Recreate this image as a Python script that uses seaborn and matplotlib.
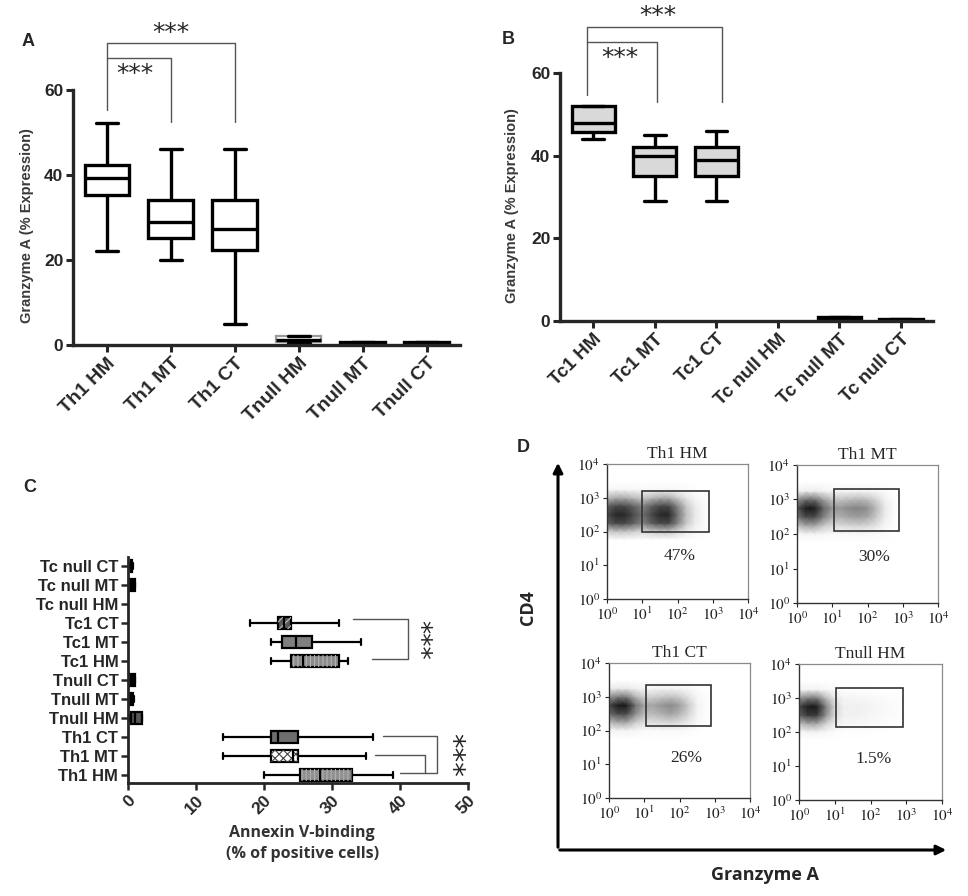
import numpy as np
import pandas as pd
import matplotlib
matplotlib.use('Agg')
import matplotlib.pyplot as plt
from matplotlib.patches import FancyArrowPatch, Rectangle, PathPatch
import seaborn as sns

sns.set_style('ticks')
plt.rcParams['font.family'] = ['Liberation Sans', 'DejaVu Sans']
plt.rcParams['mathtext.fontset'] = 'stix'
plt.rcParams['hatch.linewidth'] = 0.8

# ---------------- data ----------------
# five-number summaries: [min, q1, median, q3, max]
a_groups = ['Th1 HM', 'Th1 MT', 'Th1 CT', 'Tnull HM', 'Tnull MT', 'Tnull CT']
a_stats = [[22, 35.3, 39.2, 42.3, 52.2],
           [20, 25.1, 29, 34.1, 46],
           [5, 22.3, 27.2, 34, 46],
           [0.5, 0.8, 1.2, 2.0, 2.0],
           [0.1, 0.2, 0.4, 0.7, 0.8],
           [0.1, 0.2, 0.4, 0.6, 0.7]]

b_groups = ['Tc1 HM', 'Tc1 MT', 'Tc1 CT', 'Tc null HM', 'Tc null MT', 'Tc null CT']
b_stats = [[44, 45.8, 48, 52, 52],
           [29, 35, 40, 42.2, 45],
           [29, 35.1, 39, 42.2, 46],
           [],
           [0.2, 0.3, 0.6, 0.9, 0.9],
           [0.1, 0.2, 0.3, 0.5, 0.6]]

c_groups = ['Tc null CT', 'Tc null MT', 'Tc null HM', 'Tc1 CT', 'Tc1 MT', 'Tc1 HM',
            'Tnull CT', 'Tnull MT', 'Tnull HM', 'Th1 CT', 'Th1 MT', 'Th1 HM']
c_stats = [[0.3, 0.4, 0.5, 0.6, 0.7],
           [0, 0.2, 0.5, 1.0, 1.0],
           [],
           [18, 22, 23, 24, 31],
           [21, 22.7, 24.7, 27, 34.3],
           [21, 24, 25.7, 31, 32.3],
           [0, 0.2, 0.5, 1.0, 1.0],
           [0, 0.2, 0.4, 0.8, 0.9],
           [0.3, 0.4, 1.0, 2.0, 2.0],
           [14, 21, 22, 25, 36],
           [14, 21, 24.2, 25, 35],
           [20, 25.3, 28.2, 33, 39]]

# flow panels (D): log10 grid and read-off density profiles
d_titles = ['Th1 HM', 'Th1 MT', 'Th1 CT', 'Tnull HM']
d_pct = ['47%', '30%', '26%', '1.5%']
d_logx = [0, 0.25, 0.5, 0.75, 1.0, 1.25, 1.5, 1.75, 2.0, 2.25, 2.5, 2.75, 3.0]
d_logy = [1.75, 2.0, 2.25, 2.5, 2.75, 3.0, 3.25, 3.5]
d_xprof = [[0.85, 0.95, 0.95, 0.85, 0.7, 0.85, 0.95, 0.95, 0.7, 0.4, 0.18, 0.06, 0.0],
           [0.8, 1.0, 1.0, 0.75, 0.55, 0.55, 0.6, 0.62, 0.58, 0.42, 0.18, 0.05, 0.0],
           [0.85, 1.0, 1.0, 0.7, 0.5, 0.5, 0.55, 0.6, 0.52, 0.35, 0.12, 0.03, 0.0],
           [0.85, 1.0, 1.0, 0.65, 0.3, 0.14, 0.14, 0.13, 0.1, 0.07, 0.05, 0.03, 0.0]]
d_yprof = [[0.0, 0.4, 0.9, 1.0, 0.9, 0.5, 0.08, 0.0],
           [0.0, 0.1, 0.5, 0.85, 1.0, 0.7, 0.15, 0.0],
           [0.0, 0.1, 0.5, 0.85, 1.0, 0.65, 0.18, 0.0],
           [0.0, 0.1, 0.5, 0.9, 1.0, 0.65, 0.12, 0.0]]
# gates as log10 (x0, x1, y0, y1)
d_gates = [(1.0, 2.9, 2.0, 3.2), (1.05, 2.9, 2.09, 3.3),
           (1.05, 2.9, 2.13, 3.35), (1.03, 2.9, 2.15, 3.3)]
d_pct_pos = [(2.07, 1.27), (2.2, 1.33), (2.2, 1.2), (2.1, 1.2)]


def long_df(groups, stats):
    rows = [(g, v) for g, s in zip(groups, stats) for v in s]
    return pd.DataFrame(rows, columns=['group', 'value'])


W, H = 968, 896


def px_axes(x0, y0, x1, y1):
    # pixel box (left, top, right, bottom) -> figure fraction
    return [x0 / W, 1 - y1 / H, (x1 - x0) / W, (y1 - y0) / H]


STAR_UP = 0.40  # asterisk centre above baseline, in em


def stars(ax, x, y, size=18):
    ax.annotate('***', xy=(x, y), xytext=(0, -STAR_UP * size), textcoords='offset points',
                ha='center', va='baseline', fontsize=size, family='DejaVu Sans',
                annotation_clip=False)


def vstars(ax, x, y, size):
    # three stacked stars, written as one rotated string
    ax.annotate('***', xy=(x, y), xytext=(-STAR_UP * size, 0), textcoords='offset points',
                ha='center', va='baseline', rotation=-90, rotation_mode='anchor',
                fontsize=size, family='DejaVu Sans', annotation_clip=False)


def bracket(ax, xs, ys):
    ax.plot(xs, ys, color='#555555', lw=1.0, clip_on=False)


fig = plt.figure(figsize=(9.68, 8.96), dpi=100)

# ---------------- A ----------------
axA = fig.add_axes(px_axes(73, 90, 460, 345))
sns.boxplot(data=long_df(a_groups, a_stats), x='group', y='value', order=a_groups,
            color='white', linecolor='black', linewidth=2.4, width=0.7,
            whis=(0, 100), saturation=1, ax=axA)
axA.patches[3].set_edgecolor('#9a9a9a')
axA.patches[3].set_linewidth(1.6)
axA.set_xlim(-0.53, 5.52)
axA.set_ylim(0, 60)
axA.set_yticks([0, 20, 40, 60])
axA.set_xlabel('')
axA.set_ylabel('Granzyme A (% Expression)', fontsize=10.5, fontweight='bold', color='#3a3a3a')
axA.yaxis.set_label_coords(-0.10, 0.467)
axA.set_xticks(range(len(a_groups)))
axA.set_xticklabels(a_groups, rotation=45, ha='right', rotation_mode='anchor',
                    fontsize=14, fontweight='bold')
for lbl in axA.get_yticklabels():
    lbl.set_fontweight('bold')
    lbl.set_fontsize(12.5)
sns.despine(ax=axA)
for s in ['left', 'bottom']:
    axA.spines[s].set_linewidth(2.4)
axA.tick_params(width=2.2, length=5, pad=2)

bracket(axA, [0, 0, 2, 2], [55.3, 71, 71, 52.5])
bracket(axA, [0, 1, 1], [67.5, 67.5, 52.5])
stars(axA, 1.0, 74)
stars(axA, 0.44, 64.5)

# ---------------- B ----------------
axB = fig.add_axes(px_axes(560, 73, 933, 321))
sns.boxplot(data=long_df(b_groups, b_stats), x='group', y='value', order=b_groups,
            color='#d9d9d9', linecolor='black', linewidth=2.4, width=0.7,
            whis=(0, 100), saturation=1, ax=axB)
axB.set_xlim(-0.54, 5.52)
axB.set_ylim(0, 60)
axB.set_yticks([0, 20, 40, 60])
axB.set_xlabel('')
axB.set_ylabel('Granzyme A (% Expression)', fontsize=10.5, fontweight='bold', color='#3a3a3a')
axB.yaxis.set_label_coords(-0.11, 0.464)
axB.set_xticks(range(len(b_groups)))
axB.set_xticklabels(b_groups, rotation=45, ha='right', rotation_mode='anchor',
                    fontsize=13.5, fontweight='bold')
for lbl in axB.get_yticklabels():
    lbl.set_fontweight('bold')
    lbl.set_fontsize(12.5)
sns.despine(ax=axB)
for s in ['left', 'bottom']:
    axB.spines[s].set_linewidth(2.4)
axB.tick_params(width=2.2, length=5, pad=2)

bracket(axB, [-0.1, -0.1, 2.1, 2.1], [54.7, 71.2, 71.2, 53])
bracket(axB, [-0.1, 1.04, 1.04], [67.5, 67.5, 53])
stars(axB, 1.05, 74.6)
stars(axB, 0.44, 64.4)

# ---------------- C ----------------
axC = fig.add_axes(px_axes(128, 557, 468, 783))
sns.boxplot(data=long_df(c_groups, c_stats), x='value', y='group', order=c_groups,
            orient='h', color='#909090', linecolor='black', linewidth=1.6, width=0.65,
            whis=(0, 100), saturation=1, ax=axC)
c_style = {'Tc null CT': ('black', '', None), 'Tc null MT': ('black', '', None),
           'Tc1 CT': ('#5a5a5a', '////', '#bdbdbd'), 'Tc1 MT': ('#7f7f7f', '', None),
           'Tc1 HM': ('#8c8c8c', '||||', '#b5b5b5'), 'Tnull CT': ('black', '', None),
           'Tnull MT': ('black', '', None), 'Tnull HM': ('#555555', '', None),
           'Th1 CT': ('#6e6e6e', '', None), 'Th1 MT': ('white', 'xxxx', '#444444'),
           'Th1 HM': ('#909090', '||||', '#b0b0b0')}
filled = [g for g, s in zip(c_groups, c_stats) if len(s)]
for p, g in zip(list(axC.patches), filled):
    fc, hatch, hc = c_style[g]
    p.set_facecolor(fc)
    if hatch:
        ov = PathPatch(p.get_path(), transform=p.get_transform(), facecolor='none',
                       edgecolor=hc, lw=0, hatch=hatch, zorder=p.get_zorder() + 0.05)
        axC.add_patch(ov)
axC.set_xlim(0, 50)
axC.set_ylim(11.42, -0.47)
axC.set_xticks(range(0, 51, 10))
axC.set_xticklabels([str(v) for v in range(0, 51, 10)], rotation=45, ha='right',
                    rotation_mode='anchor', fontsize=12.5, fontweight='bold')
axC.set_yticks(range(len(c_groups)))
axC.set_yticklabels(c_groups, fontsize=12, fontweight='bold')
axC.set_ylabel('')
axC.set_xlabel('Annexin V-binding\n(% of positive cells)', family='Open Sans',
               fontweight='bold', fontsize=11.5, color='#333333', va='top',
               linespacing=1.45)
axC.xaxis.set_label_coords(0.512, -0.185)
sns.despine(ax=axC)
for s in ['left', 'bottom']:
    axC.spines[s].set_linewidth(2.0)
axC.tick_params(width=1.8, length=5, pad=2)

bracket(axC, [33.1, 41.2, 41.2, 35.9], [2.79, 2.79, 4.9, 4.9])
vstars(axC, 43.2, 3.9, 19)
bracket(axC, [37.5, 45.4, 45.4, 40.0], [8.95, 8.95, 10.9, 10.9])
bracket(axC, [36.3, 43.7, 43.7], [9.95, 9.95, 10.9])
vstars(axC, 48.1, 9.95, 21)

# ---------------- D ----------------
d_boxes = [(607, 464, 748, 599), (797, 465, 938, 603),
           (609, 663, 750, 798), (799, 664, 942, 800)]
X, Y = np.meshgrid(10 ** np.array(d_logx), 10 ** np.array(d_logy))
for i, box in enumerate(d_boxes):
    ax = fig.add_axes(px_axes(*box))
    ax.set_xscale('log')
    ax.set_yscale('log')
    Z = np.outer(d_yprof[i], d_xprof[i])
    ax.pcolormesh(X, Y, Z, shading='gouraud', cmap='Greys', vmin=0, vmax=1.1)
    gx0, gx1, gy0, gy1 = d_gates[i]
    ax.add_patch(Rectangle((10 ** gx0, 10 ** gy0), 10 ** gx1 - 10 ** gx0,
                           10 ** gy1 - 10 ** gy0, fill=False, ec='#333333', lw=1.2, zorder=3))
    px, py = d_pct_pos[i]
    ax.text(10 ** px, 10 ** py, d_pct[i], family='Liberation Serif', fontsize=12.5,
            ha='center', va='center')
    ax.set_xlim(1, 1e4)
    ax.set_ylim(1, 1e4)
    ticks = [1, 10, 100, 1000, 10000]
    tlabels = [r'$10^{%d}$' % k for k in range(5)]
    ax.set_xticks(ticks)
    ax.set_xticklabels(tlabels, fontsize=11)
    ax.set_yticks(ticks)
    ax.set_yticklabels(tlabels, fontsize=11)
    ax.tick_params(which='major', length=3, width=0.8, pad=2, colors='#222222')
    ax.tick_params(which='minor', length=1.8, width=0.6)
    ax.set_title(d_titles[i], family='Liberation Serif', fontsize=12.5, pad=4)
    for s in ['top', 'right']:
        ax.spines[s].set_color('#8a8a8a')
        ax.spines[s].set_linewidth(0.9)
    for s in ['left', 'bottom']:
        ax.spines[s].set_color('#333333')
        ax.spines[s].set_linewidth(1.0)

# big arrows for D
ox, oy = 558 / W, 1 - 850 / H
fig.add_artist(FancyArrowPatch((ox, oy), (ox, 1 - 460 / H), transform=fig.transFigure,
                               arrowstyle='-|>', mutation_scale=14, lw=2.2, color='black'))
fig.add_artist(FancyArrowPatch((ox - 1 / W, oy), (949 / W, oy), transform=fig.transFigure,
                               arrowstyle='-|>', mutation_scale=14, lw=2.2, color='black'))
fig.text(528 / W, 1 - 608 / H, 'CD4', rotation=90, ha='center', va='center',
         family='Open Sans', fontweight='bold', fontsize=13)
fig.text(765 / W, 1 - 875 / H, 'Granzyme A', ha='center', va='center',
         family='Open Sans', fontweight='bold', fontsize=13)

# panel letters
for letter, (lx, ly) in zip('ABCD', [(28, 42), (508, 40), (30, 487), (523, 447)]):
    fig.text(lx / W, 1 - ly / H, letter, ha='center', va='center',
             fontweight='bold', fontsize=13)

fig.savefig('out.png', dpi=100)
